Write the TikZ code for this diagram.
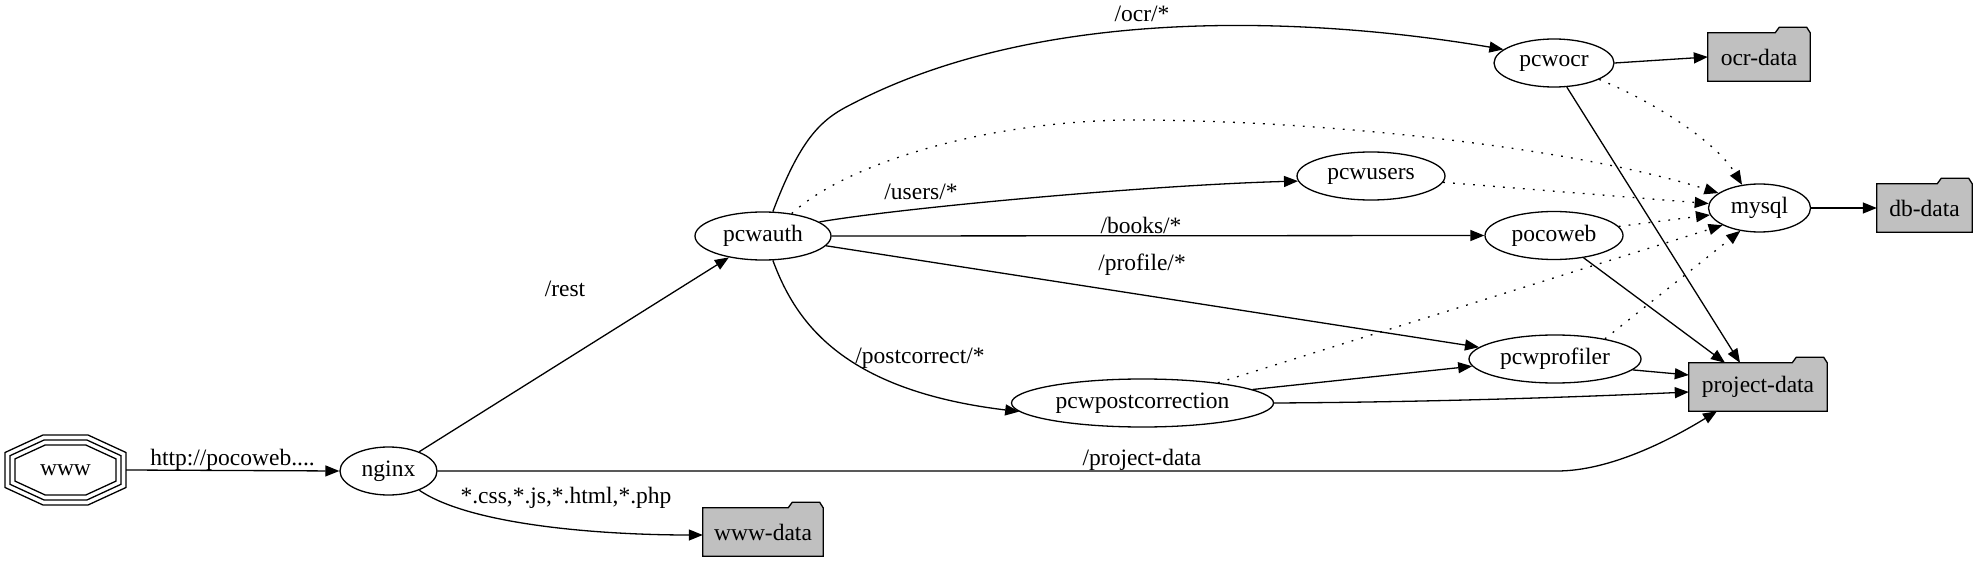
\documentclass[tikz,border=0pt]{standalone}
\usepackage{fontspec}
\setmainfont{Liberation Serif}
\usetikzlibrary{arrows.meta,backgrounds,shapes.geometric}
\definecolor{folderfill}{RGB}{192,192,192}
\newcommand{\mkfolder}[1]{\filldraw[fill=folderfill, line width=1.3pt, line join=miter] (#1.south west) -- (#1.north west) -- ([xshift=-35pt]#1.north east) -- ([xshift=-31pt,yshift=5.5pt]#1.north east) -- ([xshift=-3.5pt,yshift=5.5pt]#1.north east) -- (#1.north east) -- (#1.south east) -- cycle;}
\tikzset{
  every node/.style={font=\rmfamily\fontsize{23.5}{28}\selectfont},
  svc/.style={ellipse, draw, line width=1.3pt, inner sep=0pt, minimum height=48pt},
  folder/.style={rectangle, inner sep=0pt, minimum height=48pt},
  edge/.style={line width=1.3pt, -{Triangle[length=14pt,width=11pt]}},
  dep/.style={edge, dash pattern=on 1.8pt off 8.2pt},
  lbl/.style={inner sep=0pt},
}
\begin{document}
\begin{tikzpicture}[x=1pt,y=-1pt]
\useasboundingbox (0,0) rectangle (1978,561);
% nodes
\node[minimum width=121pt, minimum height=70pt, inner sep=0pt] (www) at (65.5,470) {www};
\node[svc, minimum width=97pt] (nginx) at (388.5,471) {nginx};
\node[svc, minimum width=136pt] (pcwauth) at (763,236) {pcwauth};
\node[svc, minimum width=120pt] (pcwocr) at (1554,63) {pcwocr};
\node[svc, minimum width=148pt] (pcwusers) at (1371,176) {pcwusers};
\node[svc, minimum width=102pt] (mysql) at (1759.5,208) {mysql};
\node[svc, minimum width=138pt] (pocoweb) at (1554,235.5) {pocoweb};
\node[svc, minimum width=172pt] (pcwprofiler) at (1555,359) {pcwprofiler};
\node[svc, minimum width=262pt] (pcwpost) at (1142.5,403) {pcwpostcorrection};
\node[folder, minimum width=120pt] (wwwdata) at (763,532) {www-data};
\node[folder, minimum width=102pt] (ocrdata) at (1759,57) {ocr-data};
\node[folder, minimum width=95pt] (dbdata) at (1924.5,208) {db-data};
\node[folder, minimum width=138pt] (projectdata) at (1758,387) {project-data};
\begin{scope}[on background layer]
  \mkfolder{wwwdata}
  \mkfolder{ocrdata}
  \mkfolder{dbdata}
  \mkfolder{projectdata}
\end{scope}
\foreach \a/\b/\c/\d in {22.5/35/60.5/17.5, 21.4/30/55.5/14.3, 20.3/25/50.5/11.1}
  \draw[line width=1.3pt, shift={(www.center)}] (-\a,-\b) -- (\a,-\b) -- (\c,-\d) -- (\c,\d) -- (\a,\b) -- (-\a,\b) -- (-\c,\d) -- (-\c,-\d) -- cycle;
% edges
\draw[edge] (www.east) -- (nginx.west);
\draw[edge] (nginx) -- (pcwauth);
\draw[edge] (nginx.-32) .. controls (470,525) and (600,535) .. ([yshift=-3pt]wwwdata.west);
\coordinate (pd1) at (1557,471);
\draw[edge] (nginx.east) -- (pd1) .. controls (1610,471) and (1670,440) .. ([xshift=-41pt]projectdata.south);
\coordinate (ocr1) at (850,105);
\draw[edge] (pcwauth.68) .. controls (800,140) and (820,120) .. (ocr1) .. controls (1050,0) and (1330,20) .. (pcwocr.165);
\coordinate (my1) at (1147,120);
\draw[dep] (pcwauth.38) .. controls (850,160) and (1000,118) .. (my1) .. controls (1350,122) and (1580,150) .. (mysql.160);
\draw[edge] (pcwauth.14) .. controls (900,208) and (1150,185) .. (pcwusers.184);
\draw[edge] (pcwauth.east) -- (pocoweb.west);
\draw[edge] (pcwauth) -- (pcwprofiler);
\draw[edge] (pcwauth.-68) .. controls (795,320) and (840,390) .. (pcwpost.-176);
\draw[edge] (pcwocr.east) -- (ocrdata.west);
\draw[dep] (pcwocr.-20) .. controls (1650,100) and (1715,140) .. (mysql.127);
\draw[edge] (pcwocr.-62) -- ([xshift=-18pt]projectdata.north);
\draw[dep] (pcwusers.-5) -- (mysql.175);
\draw[dep] (pocoweb.8) -- (mysql.188);
\draw[dep] (pcwpost.15) -- (mysql.205);
\draw[dep] (pcwprofiler.22) -- (mysql.-130);
\draw[edge] (pocoweb.-37) -- ([xshift=-33pt]projectdata.north);
\draw[edge] (pcwprofiler.-8) -- ([yshift=12pt]projectdata.west);
\draw[edge] (pcwpost.7) -- (pcwprofiler.185);
\draw[edge] (pcwpost.east) .. controls (1450,402) and (1600,396) .. ([yshift=-5pt]projectdata.west);
\draw[edge] (mysql.east) -- (dbdata.west);
% labels
\node[lbl] (lhttp) at (232.5,460) {http://pocoweb....};
\node[lbl] (lrest) at (565,289) {/rest};
\node[lbl] (lcss) at (566,498) {*.css,*.js,*.html,*.php};
\node[lbl] (locr) at (1142,14) {/ocr/*};
\node[lbl] (lusers) at (921,192) {/users/*};
\node[lbl] (lbooks) at (1141,225) {/books/*};
\node[lbl] (lprofile) at (1142,265) {/profile/*};
\node[lbl] (lpost) at (920,358) {/postcorrect/*};
\node[lbl] (lproj) at (1142,460) {/project-data};
\end{tikzpicture}
\end{document}
